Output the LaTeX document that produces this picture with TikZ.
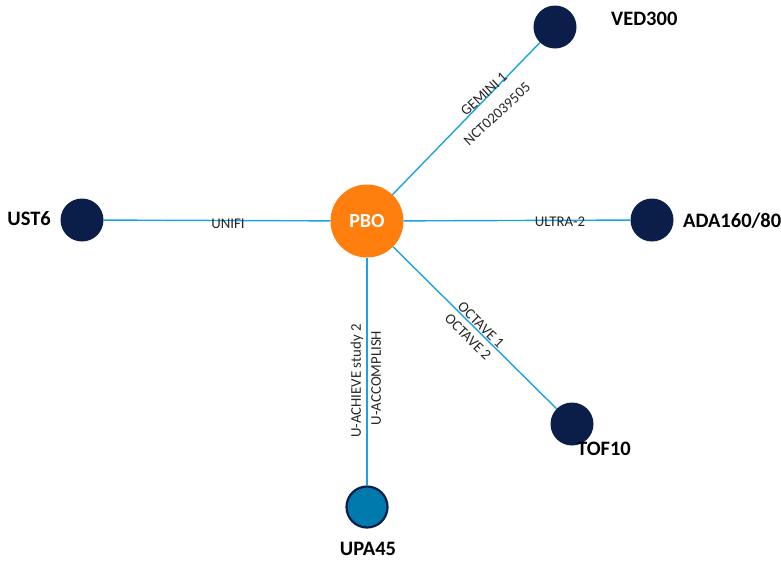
\documentclass[tikz,border=0pt]{standalone}
\usepackage{fontspec}
\setmainfont{Carlito}
\definecolor{navy}{HTML}{0B1E4A}
\definecolor{edgeblue}{HTML}{1AA3E0}
\definecolor{pbo}{HTML}{FF7F0E}
\definecolor{upa}{HTML}{0079AC}
\begin{document}
\begin{tikzpicture}[x=1pt,y=-1pt,
  trt/.style={circle,fill=navy,minimum size=43pt,inner sep=0pt},
  nlab/.style={font=\fontsize{20.5}{22}\selectfont\bfseries,text=black,inner sep=0pt},
  elab/.style={font=\fontsize{14.8}{16}\selectfont,text=black!85,inner sep=0pt},
  edge/.style={draw=edgeblue,line width=1.4pt}]
\useasboundingbox (0,0) rectangle (781,560);
\node[circle,fill=pbo,minimum size=73pt,inner sep=0pt,text=white,font=\fontsize{20}{22}\selectfont\bfseries] (pbo) at (367,221) {PBO};
\node[trt] (ved) at (555,27) {};
\node[trt] (ada) at (652,220) {};
\node[trt] (tof) at (572,424) {};
\node[trt] (ust) at (82,220) {};
\node[circle,fill=upa,draw=navy,line width=2.2pt,minimum size=41pt,inner sep=0pt] (upa) at (367,507) {};
\draw[edge] (pbo) -- (ved);
\draw[edge] (pbo) -- (ada);
\draw[edge] (pbo) -- (tof);
\draw[edge] (pbo) -- (ust);
\draw[edge] (pbo) -- (upa);
\node[nlab,anchor=west] (lved) at (611,19) {VED300};
\node[nlab,anchor=west] (lada) at (683,221) {ADA160/80};
\node[nlab,anchor=west] (ltof) at (577,449) {TOF10};
\node[nlab,anchor=east] (lust) at (51,219) {UST6};
\node[nlab] (lupa) at (368,549) {UPA45};
\node[elab] (e1) at (228,224) {UNIFI};
\node[elab] (e2) at (560,222) {ULTRA-2};
\node[elab,rotate=42.6] (e3) at (484,94) {GEMINI 1};
\node[elab,rotate=42.6] (e4) at (497,114) {NCT02039505};
\node[elab,rotate=-44.6] (e5) at (481,325) {OCTAVE 1};
\node[elab,rotate=-44.6] (e6) at (468,337) {OCTAVE 2};
\node[elab,rotate=90] (e7) at (357,381) {U-ACHIEVE study 2};
\node[elab,rotate=90] (e8) at (376,378) {U-ACCOMPLISH};
\end{tikzpicture}
\end{document}
